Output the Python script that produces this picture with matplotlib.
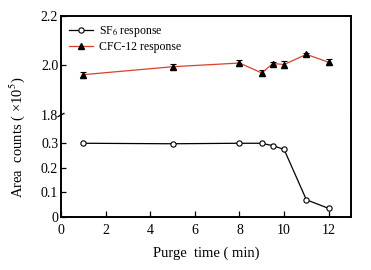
import matplotlib
matplotlib.use('Agg')
import matplotlib.pyplot as plt
from matplotlib.lines import Line2D

plt.rcParams['font.family'] = ['Liberation Serif', 'DejaVu Serif']
plt.rcParams['mathtext.fontset'] = 'stix'

# purge time (min)
time = [1, 5, 8, 9, 9.5, 10, 11, 12]
# area counts (x10^5)
sf6 = [0.300, 0.298, 0.300, 0.300, 0.290, 0.275, 0.070, 0.035]
sf6_err = [0.005, 0.004, 0.003, 0.004, 0.005, 0.004, 0.003, 0.003]
cfc12 = [1.963, 1.995, 2.010, 1.970, 2.008, 2.004, 2.045, 2.013]
cfc12_err = [0.012, 0.010, 0.012, 0.012, 0.006, 0.014, 0.006, 0.012]

fig = plt.figure(figsize=(3.71, 2.70), dpi=100)
l, r = 61/371, 351/371
bot, mid, top = 53/270, 155/270, 254/270
ax_top = fig.add_axes([l, mid, r - l, top - mid])
ax_bot = fig.add_axes([l, bot, r - l, mid - bot])

red = '#d9412b'
ax_top.errorbar(time, cfc12, yerr=cfc12_err, color=red, lw=0.9, marker='^',
                mfc='black', mec='black', ms=4.5, ecolor='black', elinewidth=0.8,
                capsize=2, capthick=0.8)
ax_bot.errorbar(time, sf6, yerr=sf6_err, color='black', lw=0.9, marker='o',
                mfc='white', mec='black', ms=3.8, mew=0.8, ecolor='black',
                elinewidth=0.8, capsize=1.5, capthick=0.8)

for ax in (ax_top, ax_bot):
    ax.set_xlim(0, 13)
    ax.tick_params(direction='in', labelsize=10, width=0.9, length=3.5, pad=2)
    for s in ax.spines.values():
        s.set_linewidth(1.4)

ax_top.set_ylim(1.8, 2.2)
ax_top.set_yticks([1.8, 2.0, 2.2])
ax_top.set_yticklabels(['1.8', '2.0', '2.2'])
ax_top.set_xticks([])
ax_top.spines['bottom'].set_visible(False)

ax_bot.set_ylim(0, 0.415)
ax_bot.set_yticks([0, 0.1, 0.2, 0.3])
ax_bot.set_yticklabels(['0', '0.1', '0.2', '0.3'])
ax_bot.set_xticks([0, 2, 4, 6, 8, 10, 12])
ax_bot.spines['top'].set_visible(False)
ax_bot.tick_params(axis='x', length=4, pad=5)

# break mark on left spine
kw = dict(transform=fig.transFigure, color='black', lw=0.9, clip_on=False)
fig.add_artist(Line2D([l - 0.008, l + 0.008], [mid - 0.006, mid + 0.006], **kw))

handles = [Line2D([], [], color='black', lw=0.9, marker='o', mfc='white',
                  mec='black', ms=3.8, mew=0.8),
           Line2D([], [], color=red, lw=0.9, marker='^', mfc='black',
                  mec='black', ms=4.5)]
ax_top.legend(handles, ['SF$_6$ response', 'CFC-12 response'], loc='upper left',
              frameon=False, fontsize=8.5, handlelength=2.0, borderaxespad=0.2,
              labelspacing=0.15, handletextpad=0.5, borderpad=0.5)

ax_bot.set_xlabel('Purge  time ( min)', fontsize=10.5, labelpad=7)
fig.text(0.045, 0.49, 'Area  counts ( ×10$^5$)', rotation=90, fontsize=10.5,
         va='center', ha='center')

plt.savefig('out.png', dpi=100)
